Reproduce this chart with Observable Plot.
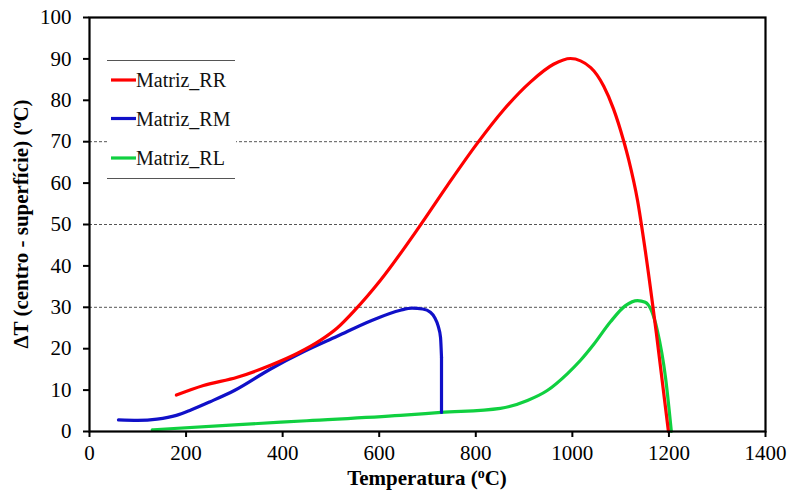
<!DOCTYPE html>
<html>
<head>
<meta charset="utf-8">
<script src="https://cdn.jsdelivr.net/npm/d3@7"></script>
<script src="https://cdn.jsdelivr.net/npm/@observablehq/plot@0.6"></script>
<style>
  html, body { margin: 0; padding: 0; background: #fff; }
  #chart svg { display: block; }
</style>
</head>
<body>
<div id="chart"></div>
<script>
// Series: Matriz_RR (red)
const rrTemp = [180, 236, 306, 375, 431, 478, 513, 551, 603, 685, 741, 803, 857, 913, 961, 996, 1038, 1065, 1085, 1106, 1117, 1135, 1151, 1174, 1199];
const rrDelta = [8.8, 11.1, 13.1, 16.0, 18.9, 22.0, 25.0, 29.5, 36.6, 49.8, 59.4, 69.6, 77.6, 84.4, 88.7, 90.1, 87.9, 83.4, 78.0, 70.3, 65.5, 55.8, 43.7, 23.7, 0];
// Series: Matriz_RM (blue)
const rmTemp = [60, 100, 140, 180, 210, 250, 300, 375, 444, 513, 582, 644, 668, 690, 706, 715, 722, 727, 729, 729];
const rmDelta = [2.8, 2.7, 3.0, 3.9, 5.2, 7.2, 9.9, 15.1, 19.3, 23.0, 26.7, 29.3, 29.8, 29.6, 28.8, 27.5, 25.5, 22.7, 17.9, 4.6];
// Series: Matriz_RL (green)
const rlTemp = [130, 300, 450, 644, 728, 851, 907, 948, 990, 1017, 1044, 1079, 1110, 1135, 1151, 1176, 1193, 1205];
const rlDelta = [0.4, 1.6, 2.6, 3.9, 4.6, 5.6, 7.5, 9.9, 14.0, 17.2, 21.0, 26.5, 30.4, 31.6, 31.2, 24.4, 13.0, 0];

const seriesNames = ["Matriz_RR", "Matriz_RM", "Matriz_RL"];
const seriesColors = ["#ff0000", "#1010c8", "#10d040"];
const xTicks = [0, 200, 400, 600, 800, 1000, 1200, 1400];
const yTicks = [0, 10, 20, 30, 40, 50, 60, 70, 80, 90, 100];
const gridValues = [30, 50, 70];

const toRows = (xs, ys) => xs.map((t, i) => ({t, d: ys[i]}));
const rr = toRows(rrTemp, rrDelta);
const rm = toRows(rmTemp, rmDelta);
const rmCurve = rm.slice(0, rm.length - 1);   // smooth part
const rmDrop = rm.slice(rm.length - 2);       // vertical drop at the end
const rl = toRows(rlTemp, rlDelta);

const W = 789, H = 491;
const mL = 89, mR = 24, mT = 17, mB = 60;
const serif = "'Liberation Serif', 'Times New Roman', serif";

const chart = Plot.plot({
  width: W, height: H,
  marginLeft: mL, marginRight: mR, marginTop: mT, marginBottom: mB,
  style: {fontFamily: serif, fontSize: "21px", color: "#000", background: "#fff"},
  x: {domain: [0, 1400], ticks: xTicks, label: null},
  y: {domain: [0, 100], ticks: yTicks, label: null},
  marks: [
    Plot.ruleY(gridValues, {stroke: "#555", strokeWidth: 1, strokeDasharray: "3,2"}),
    Plot.line(rl, {x: "t", y: "d", stroke: seriesColors[2], strokeWidth: 3.2, curve: "monotone-x"}),
    Plot.line(rmCurve, {x: "t", y: "d", stroke: seriesColors[1], strokeWidth: 3.2, curve: "monotone-x"}),
    Plot.line(rmDrop, {x: "t", y: "d", stroke: seriesColors[1], strokeWidth: 3.2, curve: "linear"}),
    Plot.line(rr, {x: "t", y: "d", stroke: seriesColors[0], strokeWidth: 3.2, curve: "monotone-x"}),
    Plot.frame({stroke: "#000", strokeWidth: 2.2}),
    Plot.axisX({ticks: xTicks, tickSize: 6, tickPadding: 8, fontSize: 21, tickFormat: d => String(d), stroke: "#000", strokeWidth: 2, label: null}),
    Plot.axisY({ticks: yTicks, tickSize: 6, tickPadding: 12, fontSize: 21, tickFormat: d => String(d), stroke: "#000", strokeWidth: 2, label: null})
  ]
});

const svg = d3.select(chart);

// Legend (drawn over gridlines)
const lg = svg.append("g").attr("class", "legend").attr("text-anchor", "start");
lg.append("rect").attr("x", 107).attr("y", 60).attr("width", 129).attr("height", 118).attr("fill", "#fff");
lg.append("line").attr("x1", 107).attr("x2", 235).attr("y1", 60.5).attr("y2", 60.5).attr("stroke", "#555").attr("stroke-width", 1.2);
lg.append("line").attr("x1", 107).attr("x2", 235).attr("y1", 178.5).attr("y2", 178.5).attr("stroke", "#555").attr("stroke-width", 1.2);
const legY = [80, 118.5, 158];
seriesNames.forEach((name, i) => {
  lg.append("line").attr("x1", 111).attr("x2", 136).attr("y1", legY[i]).attr("y2", legY[i])
    .attr("stroke", seriesColors[i]).attr("stroke-width", 3.2);
  lg.append("text").attr("x", 136).attr("y", legY[i]).attr("dy", "0.35em")
    .attr("text-anchor", "start")
    .attr("font-family", serif).attr("font-size", 20).attr("fill", "#111")
    .text(name);
});

// Axis titles
const xt = svg.append("text").attr("x", (mL + W - mR) / 2).attr("y", 485)
  .attr("text-anchor", "middle").attr("font-family", serif)
  .attr("font-size", 21).attr("font-weight", "bold").attr("fill", "#000");
xt.append("tspan").text("Temperatura (");
xt.append("tspan").attr("baseline-shift", "super").attr("font-size", 14).text("o");
xt.append("tspan").text("C)");

const yt = svg.append("text")
  .attr("transform", `translate(28,${(mT + H - mB) / 2}) rotate(-90)`)
  .attr("text-anchor", "middle").attr("font-family", serif)
  .attr("font-size", 21).attr("font-weight", "bold").attr("fill", "#000");
yt.append("tspan").text("ΔT (centro - superfície) (");
yt.append("tspan").attr("baseline-shift", "super").attr("font-size", 14).text("o");
yt.append("tspan").text("C)");

document.getElementById("chart").appendChild(chart);
</script>
</body>
</html>
